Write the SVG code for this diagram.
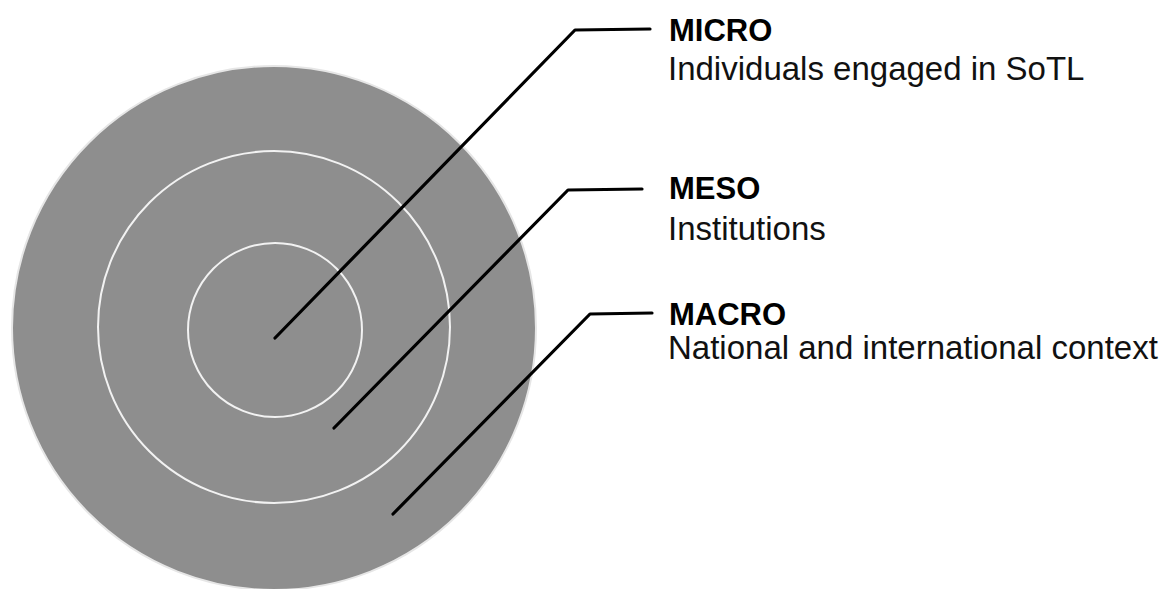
<svg xmlns="http://www.w3.org/2000/svg" width="1169" height="589" viewBox="0 0 1169 589">
  <style>
    .ring { fill: none; stroke: #f2f2f2; stroke-width: 2; }
    .conn { fill: none; stroke: #000; stroke-width: 3.2; stroke-linejoin: round; stroke-linecap: round; }
    .title { font-family: "Liberation Sans", Arial, sans-serif; font-weight: bold; font-size: 31px; fill: #000; }
    .desc { font-family: "Liberation Sans", Arial, sans-serif; font-size: 33px; fill: #111; }
  </style>
  <rect width="1169" height="589" fill="#fff"/>
  <g id="macro-circle">
    <circle cx="274" cy="328" r="262" fill="#8e8e8e" stroke="#e6e6e6" stroke-width="2"/>
  </g>
  <g id="meso-circle">
    <circle class="ring" cx="274" cy="327" r="176"/>
  </g>
  <g id="micro-circle">
    <circle class="ring" cx="275" cy="330" r="87"/>
  </g>
  <g id="connectors">
    <path class="conn" d="M275,338 L575,30 L650,29"/>
    <path class="conn" d="M334,428 L568,190 L642,189"/>
    <path class="conn" d="M393,514 L590,314 L652,313"/>
  </g>
  <g id="label-micro">
    <text class="title" x="669" y="41">MICRO</text>
    <text class="desc" x="668" y="80">Individuals engaged in SoTL</text>
  </g>
  <g id="label-meso">
    <text class="title" x="669" y="199">MESO</text>
    <text class="desc" x="668" y="240">Institutions</text>
  </g>
  <g id="label-macro">
    <text class="title" x="669" y="325">MACRO</text>
    <text class="desc" x="668" y="359">National and international context</text>
  </g>
</svg>
